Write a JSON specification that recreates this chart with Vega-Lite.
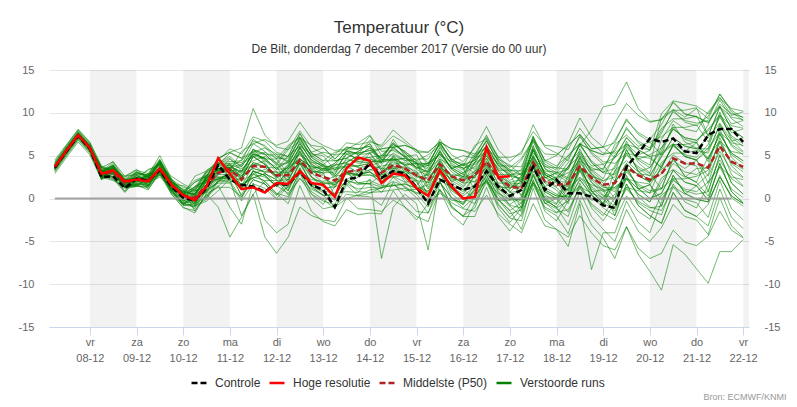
{
  "$schema": "https://vega.github.io/schema/vega-lite/v6.json",
  "autosize": {"type": "none"},
  "width": 700,
  "height": 257,
  "padding": {"left": 49, "top": 70, "right": 48, "bottom": 80},
  "background": "white",
  "config": {
    "font": "Liberation Sans",
    "view": {"stroke": null},
    "legend": {
      "orient": "none",
      "legendX": 141,
      "legendY": 304,
      "direction": "horizontal",
      "symbolType": "stroke",
      "symbolSize": 225,
      "symbolStrokeWidth": 2.5,
      "symbolOpacity": 1,
      "labelFontSize": 12,
      "labelColor": "#333333",
      "labelFont": "Liberation Sans",
      "columnPadding": 3,
      "labelOffset": 7
    }
  },
  "title": {
    "text": "Temperatuur (°C)",
    "subtitle": "De Bilt, donderdag 7 december 2017 (Versie do 00 uur)",
    "anchor": "middle",
    "frame": "group",
    "font": "Liberation Sans",
    "fontSize": 17,
    "fontWeight": "normal",
    "color": "#333333",
    "subtitleFont": "Liberation Sans",
    "subtitleFontSize": 12,
    "subtitleColor": "#333333",
    "offset": 8,
    "subtitlePadding": 7
  },
  "datasets": {
    "times": [
      {"k":1,"t":1512626400000},{"k":2,"t":1512648000000},{"k":3,"t":1512669600000},
      {"k":4,"t":1512691200000},{"k":5,"t":1512712800000},{"k":6,"t":1512734400000},{"k":7,"t":1512756000000},
      {"k":8,"t":1512777600000},{"k":9,"t":1512799200000},{"k":10,"t":1512820800000},{"k":11,"t":1512842400000},
      {"k":12,"t":1512864000000},{"k":13,"t":1512885600000},{"k":14,"t":1512907200000},{"k":15,"t":1512928800000},
      {"k":16,"t":1512950400000},{"k":17,"t":1512972000000},{"k":18,"t":1512993600000},{"k":19,"t":1513015200000},
      {"k":20,"t":1513036800000},{"k":21,"t":1513058400000},{"k":22,"t":1513080000000},{"k":23,"t":1513101600000},
      {"k":24,"t":1513123200000},{"k":25,"t":1513144800000},{"k":26,"t":1513166400000},{"k":27,"t":1513188000000},
      {"k":28,"t":1513209600000},{"k":29,"t":1513231200000},{"k":30,"t":1513252800000},{"k":31,"t":1513274400000},
      {"k":32,"t":1513296000000},{"k":33,"t":1513317600000},{"k":34,"t":1513339200000},{"k":35,"t":1513360800000},
      {"k":36,"t":1513382400000},{"k":37,"t":1513404000000},{"k":38,"t":1513425600000},{"k":39,"t":1513447200000},
      {"k":40,"t":1513468800000},{"k":41,"t":1513490400000},{"k":42,"t":1513512000000},{"k":43,"t":1513533600000},
      {"k":44,"t":1513555200000},{"k":45,"t":1513576800000},{"k":46,"t":1513598400000},{"k":47,"t":1513620000000},
      {"k":48,"t":1513641600000},{"k":49,"t":1513663200000},{"k":50,"t":1513684800000},{"k":51,"t":1513706400000},
      {"k":52,"t":1513728000000},{"k":53,"t":1513749600000},{"k":54,"t":1513771200000},{"k":55,"t":1513792800000},
      {"k":56,"t":1513814400000},{"k":57,"t":1513836000000},{"k":58,"t":1513857600000},{"k":59,"t":1513879200000},
      {"k":60,"t":1513900800000}
    ],
    "runs": [
      {"s":"Verstoorde runs","m":"e01","v":[3.9,5.8,7.6,6.1,3.6,3.2,2.5,3.3,2.9,4.6,2.3,0.8,2.1,2.7,3.9,5.3,4.7,6.7,6.2,4.9,4.4,7.1,4.8,3.9,3.4,3.7,4.5,5.4,3.5,3.6,2.9,3.1,0.3,3.1,0.9,0.0,-0.6,2.8,-0.6,-2.3,-2.6,2.2,-1.5,-2.6,-0.3,2.2,0.4,-0.7,2.1,3.3,2.9,2.7,4.9,7.1,6.1,5.8,7.1,8.8,6.7,7.1]},
      {"s":"Verstoorde runs","m":"e02","v":[3.5,5.4,7.2,5.7,2.4,3.1,1.4,1.6,1.0,3.2,0.5,-1.1,-1.4,0.4,1.5,-1.0,-3.0,1.8,-2.5,-4.0,-3.0,1.5,-1.5,-2.7,-3.2,-1.3,-1.9,-1.7,-1.8,0.9,-1.0,-2.5,-0.6,0.6,-0.2,-0.4,0.7,2.7,0.4,-0.9,-2.1,1.8,-1.2,-2.0,-4.1,-0.2,-3.1,-4.6,-7.0,-3.3,-5.8,-7.0,-6.4,-3.7,-5.1,-5.5,-4.4,-1.5,-3.7,-4.6]},
      {"s":"Verstoorde runs","m":"e03","v":[3.8,5.7,7.5,6.0,3.0,3.4,2.0,2.5,2.0,3.5,1.4,0.2,-0.5,1.0,2.3,2.9,1.3,2.8,2.5,1.5,0.6,2.3,1.1,0.4,-1.0,0.0,0.4,1.0,1.2,2.0,1.4,0.5,-1.0,1.0,-0.5,-1.2,-1.5,0.4,-1.8,-3.0,-4.0,-0.6,-3.2,-3.6,-4.5,-2.0,-4.0,-5.5,-6.0,-3.3,-6.5,-8.5,-10.7,-5.4,-6.5,-8.2,-9.9,-6.2,-6.2,-4.8]},
      {"s":"Verstoorde runs","m":"e04","v":[3.8,5.7,7.5,6.0,3.6,3.1,1.5,3.0,2.5,4.2,1.9,0.4,1.4,2.1,4.2,4.9,3.7,5.7,5.2,3.9,5.7,6.7,4.9,5.4,5.1,6.5,6.3,6.6,6.2,8.0,6.8,5.6,5.4,6.6,5.8,5.6,5.2,7.2,4.9,3.6,4.7,6.9,4.4,5.0,6.4,9.4,7.2,6.0,8.8,11.1,9.7,8.9,9.2,10.3,10.3,10.6,7.3,10.7,8.1,7.1]},
      {"s":"Verstoorde runs","m":"e05","v":[3.6,5.5,7.3,5.8,2.3,3.5,1.4,1.5,2.1,2.7,1.4,0.5,-0.5,1.3,2.4,2.5,1.7,2.5,2.1,2.1,2.2,4.4,2.5,1.7,1.8,3.7,3.1,3.3,3.8,4.0,4.2,3.7,3.1,5.4,3.6,2.8,4.7,5.5,3.3,3.3,1.9,5.8,2.8,2.0,0.9,4.8,1.9,0.4,0.0,3.7,1.2,0.0,0.6,3.3,1.9,1.5,-0.2,4.1,0.8,-0.5]},
      {"s":"Verstoorde runs","m":"e06","v":[4.0,5.9,7.7,6.2,2.9,3.6,1.9,2.1,2.8,3.3,1.1,0.9,0.3,2.6,3.3,3.3,5.5,6.4,6.9,6.2,6.7,8.9,7.0,6.2,5.6,5.8,5.7,7.3,5.0,6.3,5.5,4.4,3.8,6.6,4.4,3.5,4.0,4.9,3.6,2.9,0.2,3.6,1.0,0.3,0.2,1.5,-0.2,0.0,-1.5,1.3,-0.5,-1.4,-1.9,1.7,-0.4,-1.1,1.6,4.5,2.3,1.4]},
      {"s":"Verstoorde runs","m":"e07","v":[3.4,5.3,7.1,5.6,2.5,2.1,1.4,2.2,1.1,2.8,0.5,-1.0,-1.7,0.6,1.3,1.3,0.2,2.2,1.7,0.4,2.0,3.1,2.2,2.0,2.6,4.0,3.8,4.1,5.0,5.1,4.4,4.6,4.6,6.9,5.1,4.3,5.9,8.4,5.7,4.3,5.5,7.8,6.2,6.1,5.7,8.2,6.4,5.3,5.3,6.4,5.1,5.6,7.6,10.3,8.9,8.5,9.6,12.2,10.3,9.4]},
      {"s":"Verstoorde runs","m":"e08","v":[3.7,5.5,7.3,5.9,3.0,3.7,2.0,2.2,2.9,3.5,2.2,1.3,0.9,2.7,3.8,3.9,2.9,5.4,4.5,3.1,3.0,4.1,3.2,3.0,0.3,3.1,1.8,1.7,0.7,2.5,1.3,0.1,-1.7,2.0,-0.9,-2.1,-2.1,1.3,-2.1,-3.8,-1.8,1.6,-1.0,-1.7,0.0,1.4,0.6,0.1,1.8,4.1,2.7,1.9,5.4,6.4,5.5,6.5,4.3,7.7,5.1,4.1]},
      {"s":"Verstoorde runs","m":"e09","v":[3.6,5.6,7.5,6.0,3.3,2.8,1.2,2.7,1.6,3.8,1.1,-0.5,0.1,0.8,2.9,3.6,2.2,4.2,3.7,2.4,3.4,6.1,3.8,2.9,3.9,4.2,5.0,5.9,4.0,5.3,4.5,3.4,2.6,3.7,2.0,2.5,1.9,4.4,1.7,0.3,-0.6,4.2,0.5,-0.6,2.7,5.2,3.4,2.3,5.1,6.3,5.9,5.7,7.9,10.1,9.1,8.8,9.1,10.8,8.7,9.1]},
      {"s":"Verstoorde runs","m":"e10","v":[3.5,5.5,7.3,5.8,2.5,3.2,1.5,1.7,1.6,3.3,1.0,-0.5,-0.4,0.2,1.4,2.8,0.4,2.9,2.0,0.6,-0.6,3.0,0.0,-1.2,-0.9,0.5,0.3,0.6,1.3,1.5,1.7,1.2,0.8,3.6,1.4,0.5,2.7,4.7,2.4,1.1,2.7,4.9,2.4,3.0,3.4,6.4,4.2,3.0,2.8,5.1,3.7,2.9,1.1,4.7,2.6,1.9,0.3,3.7,1.1,0.1]},
      {"s":"Verstoorde runs","m":"e11","v":[3.9,5.9,7.7,6.1,2.9,4.1,2.0,2.1,2.7,4.4,2.1,0.6,0.6,2.4,3.5,3.6,1.5,2.4,2.9,2.2,0.4,3.1,0.8,-0.1,-1.2,1.6,0.3,0.2,-0.8,1.9,0.0,-1.5,-1.7,1.1,-1.1,-2.0,-1.1,2.3,-1.1,-2.8,-1.1,2.8,-0.2,-1.0,-3.1,0.8,-2.1,-3.6,-5.0,-1.3,-3.8,-5.0,-3.4,-0.7,-2.1,-2.5,-4.2,0.1,-3.2,-4.5]},
      {"s":"Verstoorde runs","m":"e12","v":[3.7,5.7,7.5,5.9,3.0,2.6,1.9,2.7,2.0,4.2,1.5,-0.1,1.4,2.0,3.2,4.6,3.7,5.7,5.2,3.9,4.2,5.2,3.4,3.9,2.3,4.2,3.6,3.8,4.3,4.5,4.7,4.2,3.6,5.9,4.1,3.3,5.2,6.0,3.8,3.8,3.7,7.1,4.5,3.8,5.0,6.4,5.6,5.1,5.5,8.3,6.5,5.6,9.9,11.4,11.1,10.8,9.9,11.7,10.5,10.2]},
      {"s":"Verstoorde runs","m":"e13","v":[3.8,5.6,7.3,5.9,3.0,3.7,2.0,2.2,2.2,2.8,1.5,0.6,-0.4,1.4,2.5,2.6,3.2,4.0,3.6,3.6,4.2,6.4,4.5,3.7,3.8,5.7,5.1,5.3,5.8,6.0,6.2,5.7,4.1,5.2,3.5,4.0,2.9,5.4,2.7,1.3,1.2,4.6,2.0,1.3,-0.1,3.8,0.9,-0.6,3.3,4.4,3.1,3.6,5.6,8.3,6.9,6.5,8.6,11.5,9.3,8.4]},
      {"s":"Verstoorde runs","m":"e14","v":[3.4,5.3,7.1,5.7,2.8,2.3,0.7,2.2,1.3,3.0,0.7,-0.8,-0.6,0.1,2.2,2.9,1.4,3.9,3.0,1.6,3.2,5.4,3.5,2.7,1.3,4.1,2.8,2.7,2.5,2.6,1.9,2.1,-0.7,3.0,0.1,-1.1,0.2,2.2,-0.1,-1.4,-0.5,1.8,0.2,0.1,0.4,3.4,1.2,0.0,2.0,5.7,3.2,2.0,2.9,5.1,4.1,3.8,0.8,5.1,1.8,0.5]},
      {"s":"Verstoorde runs","m":"e15","v":[4.0,5.9,7.6,6.2,3.1,4.3,2.2,2.3,3.3,3.9,2.6,1.7,1.0,3.3,4.0,4.0,3.5,4.4,4.9,4.2,2.4,6.0,3.0,1.8,1.6,3.0,2.8,3.1,1.7,3.5,2.3,1.1,1.6,3.9,2.1,1.3,3.0,3.9,2.6,1.9,2.2,4.4,1.9,2.5,3.7,6.2,4.4,3.3,6.3,7.4,6.1,6.6,5.1,8.7,6.6,5.9,4.6,7.5,5.3,4.4]},
      {"s":"Verstoorde runs","m":"e16","v":[3.7,5.5,7.4,6.0,2.5,3.7,1.6,1.7,2.4,4.1,1.8,0.3,-0.7,2.5,2.5,2.2,-2.0,0.5,-4.5,-6.4,-4.5,-1.0,-2.0,-2.5,-2.7,0.1,-1.2,-1.3,-1.5,-0.2,-1.0,-2.1,-2.7,1.0,-1.9,-3.1,-0.6,1.9,-0.8,-2.2,-0.8,2.6,0.0,-0.7,1.2,2.5,0.8,1.0,-2.0,1.7,-0.8,-2.0,-2.9,0.7,-1.4,-2.1,-0.7,2.7,0.1,-0.9]},
      {"s":"Verstoorde runs","m":"e17","v":[3.6,5.6,7.4,5.8,2.9,2.5,1.8,2.6,1.4,3.6,0.9,-0.7,0.1,1.9,3.0,3.1,3.9,6.4,5.5,4.1,6.0,7.1,6.2,6.0,4.6,6.0,5.8,6.1,4.5,4.6,3.9,4.1,1.3,4.1,1.9,1.0,1.5,2.4,1.1,0.4,-1.6,3.2,-0.5,-1.6,-1.3,1.2,-0.6,-1.7,-2.5,0.3,-1.5,-2.4,0.4,1.4,0.5,1.5,2.8,7.1,3.8,2.5]},
      {"s":"Verstoorde runs","m":"e18","v":[3.9,5.7,7.5,6.1,3.1,3.8,2.1,2.3,2.6,3.1,0.9,0.7,-0.7,1.6,2.3,2.3,1.2,3.2,2.7,1.4,2.2,3.2,1.4,1.9,1.9,2.2,3.0,3.9,3.5,4.8,4.0,2.9,3.3,6.1,3.9,3.0,4.7,6.7,4.4,3.1,4.5,6.8,5.2,5.1,6.2,7.5,5.8,6.0,6.5,9.3,7.5,6.6,7.2,8.3,8.3,8.6,6.6,9.5,7.3,6.4]},
      {"s":"Verstoorde runs","m":"e19","v":[3.5,5.4,7.3,5.8,2.4,3.1,1.4,1.6,2.2,2.8,1.5,0.6,0.9,1.5,2.7,4.1,2.4,5.8,4.2,2.5,3.9,6.6,4.3,3.4,4.1,5.5,5.3,5.6,4.7,6.5,5.3,4.1,3.4,4.6,3.8,3.6,0.9,4.3,0.9,-0.8,-1.1,2.8,-0.2,-1.0,0.7,3.2,1.4,0.3,-1.0,2.7,0.2,-1.0,-1.4,1.3,-0.1,-0.5,-2.2,2.1,-1.2,-2.5]},
      {"s":"Verstoorde runs","m":"e20","v":[3.7,5.7,7.4,5.9,3.4,2.9,1.3,2.8,2.0,3.7,1.4,-0.1,-1.2,1.1,1.8,1.8,-0.3,1.7,1.2,-0.1,-0.1,3.5,0.5,-0.7,1.4,1.7,2.5,3.4,3.0,4.3,3.5,2.4,2.8,5.6,3.4,2.5,5.0,5.9,4.6,3.9,2.7,6.1,3.5,2.8,1.9,4.9,2.7,1.5,3.8,6.1,4.7,3.9,9.4,10.4,9.5,10.5,9.3,12.2,10.1,9.1]},
      {"s":"Verstoorde runs","m":"e21","v":[3.8,5.6,7.4,5.9,2.8,3.5,1.8,2.0,2.2,4.4,1.7,0.1,1.1,2.9,4.0,4.1,4.2,5.0,4.6,4.6,2.9,5.6,3.3,2.4,1.6,3.0,2.8,3.1,2.3,2.5,2.7,2.2,0.6,2.9,1.1,0.3,1.4,3.9,1.2,-0.2,1.7,3.9,1.4,2.0,1.9,5.8,2.9,1.4,0.8,3.1,1.7,0.9,1.2,2.3,2.3,2.6,3.3,6.7,4.1,3.1]},
      {"s":"Verstoorde runs","m":"e22","v":[3.6,5.5,7.3,5.9,2.4,3.6,1.5,1.6,1.5,3.2,0.9,-0.6,-0.8,-0.1,2.0,2.7,1.2,3.2,2.7,1.4,3.5,4.6,3.7,3.5,3.3,5.2,4.6,4.8,5.0,6.3,5.5,4.4,5.1,6.2,4.5,5.0,4.7,6.7,4.4,3.1,1.9,5.8,2.8,2.0,-0.1,3.8,0.9,-0.6,-1.2,1.1,-0.3,-1.1,-0.9,2.7,0.6,-0.1,-0.4,2.5,0.3,-0.6]},
      {"s":"Verstoorde runs","m":"e23","v":[3.8,5.7,7.6,6.0,3.3,2.9,2.2,3.0,2.6,4.3,2.0,0.5,0.1,2.4,3.1,3.1,2.7,3.5,3.1,3.1,1.2,3.4,1.5,0.7,-0.2,1.7,1.1,1.3,1.2,3.9,2.0,0.5,2.1,4.4,2.6,1.8,4.2,5.0,2.8,2.8,2.9,6.8,3.8,3.0,4.7,7.2,5.4,4.3,4.1,5.3,4.9,4.7,3.6,6.3,4.9,4.5,5.9,7.7,6.5,6.2]},
      {"s":"Verstoorde runs","m":"e24","v":[3.5,5.5,7.4,5.8,3.0,2.5,0.9,2.4,1.8,4.0,1.3,-0.3,0.6,2.4,3.5,3.6,4.5,5.4,5.9,5.2,4.9,7.6,5.3,4.4,5.4,5.7,6.5,7.4,5.5,5.6,4.9,5.1,2.8,5.6,3.4,2.5,4.2,6.2,3.9,2.6,2.4,7.2,3.5,2.4,3.0,4.4,3.6,3.1,3.5,6.3,4.5,3.6,5.9,8.1,7.1,6.8,8.1,9.8,7.7,8.1]},
      {"s":"Verstoorde runs","m":"e25","v":[3.9,5.8,7.5,6.0,3.2,3.9,2.2,2.4,2.6,3.2,1.9,1.0,-1.5,0.5,-1.0,-4.5,-2.2,0.5,2.0,0.6,0.2,2.4,0.5,-0.3,-0.7,2.1,0.8,0.7,0.8,1.0,1.2,0.7,-0.2,3.5,0.6,-0.6,1.7,3.7,1.4,0.1,-0.3,1.9,-0.6,0.0,-1.6,1.4,-0.8,-2.0,0.1,1.3,0.9,0.7,1.1,4.7,2.6,1.9,4.9,6.7,5.5,5.2]},
      {"s":"Verstoorde runs","m":"e26","v":[3.6,5.6,7.4,5.9,2.6,3.3,1.6,1.8,2.7,3.2,1.0,0.8,0.5,2.3,3.4,3.5,2.4,4.9,4.0,2.6,3.7,5.9,4.0,3.2,3.6,3.8,3.7,5.3,3.2,5.0,3.8,2.6,2.4,3.6,2.8,2.6,2.4,5.8,2.4,0.7,2.2,5.6,3.0,2.3,4.2,5.5,3.8,4.0,4.8,7.1,5.7,4.9,3.6,6.3,4.9,4.5,1.8,6.1,2.8,1.5]},
      {"s":"Verstoorde runs","m":"e27","v":[3.7,5.5,7.3,5.8,3.2,2.8,2.1,2.9,1.5,3.7,1.0,-0.6,0.2,0.8,2.0,3.4,0.2,2.2,1.7,0.4,1.4,4.1,1.8,0.9,0.6,2.0,1.8,2.1,1.5,1.6,0.9,1.1,-0.4,1.9,0.1,-0.7,1.0,1.9,0.6,-0.1,-0.1,3.8,0.8,0.0,1.7,4.2,2.4,1.3,1.3,2.4,1.1,1.6,-0.1,2.1,1.1,0.8,1.9,3.7,2.5,2.2]},
      {"s":"Verstoorde runs","m":"e28","v":[3.7,5.7,7.5,6.0,2.8,3.5,1.8,2.0,2.7,4.4,2.1,0.6,1.9,2.6,4.7,5.4,5.9,10.5,7.4,6.0,5.7,7.9,6.0,5.2,4.4,4.7,5.5,6.4,4.2,6.0,4.8,3.6,4.1,6.4,4.6,3.8,6.2,7.0,4.8,4.8,5.2,8.6,6.0,5.3,4.4,7.4,5.2,4.0,2.0,5.7,3.2,2.0,3.4,4.4,3.5,4.5,2.6,5.5,3.3,2.4]},
      {"s":"Verstoorde runs","m":"e29","v":[3.4,5.4,7.2,5.7,2.3,3.0,1.3,1.5,1.8,3.5,1.2,-0.3,-0.2,2.1,2.8,2.8,2.0,2.9,3.4,2.7,0.9,4.5,1.5,0.3,0.6,0.8,0.7,2.3,-7.0,-1.0,0.5,-0.6,-6.0,2.0,-0.9,-2.1,0.2,2.2,-0.1,-1.4,-3.6,1.2,-2.5,-3.6,-5.6,-0.6,-8.3,-4.0,-4.0,-0.3,-2.8,-4.0,-0.4,2.3,0.9,0.5,0.8,5.1,1.8,0.5]},
      {"s":"Verstoorde runs","m":"e30","v":[3.9,5.8,7.6,6.2,3.6,3.1,1.5,3.0,2.7,3.3,2.0,1.1,0.6,2.4,3.5,3.6,3.2,5.2,4.7,3.4,5.0,6.1,5.2,5.0,3.3,5.2,4.6,4.8,3.3,3.5,3.7,3.2,1.1,3.4,1.6,0.8,2.7,3.5,1.3,1.3,1.9,5.8,2.8,2.0,3.7,6.2,8.0,10.7,11.0,13.6,10.5,9.0,9.2,11.2,9.8,9.6,8.8,11.0,9.9,9.5]},
      {"s":"Verstoorde runs","m":"e31","v":[4.3,6.2,8.0,6.5,3.6,4.3,2.6,2.8,2.8,5.0,2.3,0.7,1.9,2.6,4.7,5.4,4.7,5.5,5.1,5.1,4.2,6.4,4.5,3.7,2.8,4.7,4.1,4.3,4.3,4.5,4.7,4.2,2.6,4.9,3.1,2.3,3.2,4.0,1.8,1.8,0.4,4.3,1.3,0.5,-0.1,3.8,0.9,-0.6,1.8,4.1,2.7,1.9,4.2,5.3,5.3,5.6,5.3,8.7,6.1,5.1]},
      {"s":"Verstoorde runs","m":"e32","v":[3.1,5.0,6.8,5.3,2.6,2.2,1.5,2.3,1.8,3.5,1.2,-0.3,0.3,2.6,3.3,3.3,3.2,5.2,4.7,3.4,3.5,4.6,3.7,3.5,2.6,2.8,2.7,4.3,2.5,3.8,3.0,1.9,0.3,4.0,1.1,-0.1,0.9,3.4,0.7,-0.7,0.2,3.6,1.0,0.3,2.0,3.4,2.6,2.1,2.5,5.3,3.5,2.6,4.9,7.1,6.1,5.8,5.8,10.1,6.8,5.5]},
      {"s":"Verstoorde runs","m":"e33","v":[4.1,6.0,7.8,6.3,2.5,3.7,1.6,1.7,1.9,2.5,1.2,0.3,-0.9,0.9,2.0,2.1,-0.1,3.3,1.7,0.0,1.4,4.1,1.8,0.9,1.6,3.0,2.8,3.1,2.2,4.9,3.0,1.5,3.1,4.2,2.5,3.0,3.7,5.7,3.4,2.1,3.0,5.3,3.7,3.6,3.4,6.4,4.2,3.0,4.8,5.9,4.6,5.1,5.9,8.1,7.1,6.8,7.9,9.7,8.5,8.2]},
      {"s":"Verstoorde runs","m":"e34","v":[3.3,5.2,7.0,5.5,3.2,3.9,2.2,2.4,3.4,3.9,1.7,1.5,0.8,3.1,3.8,3.8,3.0,3.9,4.4,3.7,1.9,5.5,2.5,1.3,1.3,3.2,2.6,2.8,2.0,3.3,2.5,1.4,0.9,2.1,1.3,1.1,-0.1,3.3,-0.1,-1.8,-1.3,2.1,-0.5,-1.2,-2.1,1.8,-1.1,-2.6,-0.5,2.3,0.5,-0.4,2.4,3.4,2.5,3.5,3.6,6.5,4.3,3.4]},
      {"s":"Verstoorde runs","m":"e35","v":[4.5,6.3,8.1,6.6,3.8,3.3,1.7,3.2,2.3,4.0,1.7,0.2,0.4,1.1,3.2,3.9,2.4,4.9,4.0,2.6,3.7,5.9,4.0,3.2,3.9,4.2,5.0,5.9,4.7,6.5,5.3,4.1,4.1,6.4,4.6,3.8,4.5,5.4,4.1,3.4,2.7,4.9,2.4,3.0,2.2,4.7,2.9,1.8,0.0,3.7,1.2,0.0,0.6,3.3,1.9,1.5,-0.2,4.1,0.8,-0.5]},
      {"s":"Verstoorde runs","m":"e36","v":[2.9,4.8,6.6,5.1,2.2,2.9,1.2,1.4,1.4,3.6,0.9,-0.7,0.1,0.7,1.9,3.3,1.5,2.4,2.9,2.2,0.9,3.6,1.3,0.4,0.3,3.1,1.8,1.7,2.8,3.0,3.2,2.7,1.8,4.6,2.4,1.5,3.2,5.2,2.9,1.6,1.4,6.2,2.5,1.4,3.7,5.0,3.3,3.5,5.8,8.1,6.7,5.9,8.2,9.3,9.3,9.6,7.3,10.7,8.1,7.1]},
      {"s":"Verstoorde runs","m":"e37","v":[3.9,5.8,7.6,6.1,3.4,3.0,2.3,3.1,2.7,4.4,2.1,0.6,1.3,3.1,4.2,4.3,4.4,6.9,6.0,4.6,6.2,7.2,5.4,5.9,4.6,6.0,5.8,6.1,4.2,6.9,5.0,3.5,3.9,5.1,4.3,4.1,3.4,5.9,3.2,1.8,1.7,5.1,2.5,1.8,1.4,4.4,2.2,1.0,1.1,2.3,1.9,1.7,-0.9,2.7,0.6,-0.1,-0.4,2.5,0.3,-0.6]},
      {"s":"Verstoorde runs","m":"e38","v":[3.5,5.4,7.2,5.7,2.3,3.5,1.4,1.5,2.4,3.0,1.7,0.8,0.4,2.2,3.3,3.4,2.7,3.5,3.1,3.1,2.2,4.4,2.5,1.7,0.3,2.2,1.6,1.8,1.3,1.5,1.7,1.2,-0.4,1.9,0.1,-0.7,1.2,2.0,-0.2,-0.2,-0.1,3.8,0.8,0.0,1.2,3.7,1.9,0.8,1.3,2.4,1.1,1.6,3.6,6.3,4.9,4.5,5.6,8.5,6.3,5.4]},
      {"s":"Verstoorde runs","m":"e39","v":[4.2,6.1,7.9,6.4,3.1,3.8,2.1,2.3,2.3,4.5,1.8,0.2,1.2,1.9,4.0,4.7,3.2,5.2,4.7,3.4,4.4,7.1,4.8,3.9,5.1,5.3,5.2,6.8,6.0,7.3,6.5,5.4,5.4,6.6,5.8,5.6,4.9,7.4,4.7,3.3,3.2,6.6,4.0,3.3,5.0,6.4,5.6,5.1,6.8,9.1,7.7,6.9,8.6,11.3,9.9,9.5,8.9,10.7,9.5,9.2]},
      {"s":"Verstoorde runs","m":"e40","v":[3.2,5.1,6.9,5.4,2.2,3.4,1.3,1.4,1.3,3.0,0.7,-0.8,-0.9,-0.3,0.9,2.3,1.2,3.2,2.7,1.4,3.0,4.1,3.2,3.0,3.1,4.5,4.3,4.6,4.2,6.0,4.8,3.6,3.1,5.4,3.6,2.8,2.4,5.8,2.4,0.7,0.9,4.8,1.8,1.0,-0.6,3.3,0.4,-1.1,-2.0,1.7,-0.8,-2.0,-2.9,0.7,-1.4,-2.1,-3.2,1.1,-2.2,-3.5]},
      {"s":"Verstoorde runs","m":"e41","v":[4.0,5.9,7.7,6.2,3.7,3.3,2.6,3.4,2.4,4.1,1.8,0.3,0.6,2.4,3.5,3.6,4.0,4.9,5.4,4.7,4.7,6.9,5.0,4.2,2.8,5.6,4.3,4.2,4.5,4.6,3.9,4.1,2.1,4.4,2.6,1.8,2.0,2.9,1.6,0.9,-1.1,3.7,0.0,-1.1,-0.3,2.2,0.4,-0.7,0.5,3.3,1.5,0.6,3.9,6.1,5.1,4.8,6.3,9.7,7.1,6.1]},
      {"s":"Verstoorde runs","m":"e42","v":[3.4,5.3,7.1,5.6,2.7,3.4,1.7,1.9,2.6,3.2,1.9,1.0,0.4,2.7,3.4,3.4,2.2,4.2,3.7,2.4,3.7,4.7,2.9,3.4,4.1,5.5,5.3,5.6,5.8,6.0,6.2,5.7,3.8,6.6,4.4,3.5,4.2,6.2,3.9,2.6,3.4,7.3,4.3,3.5,6.2,7.5,5.8,6.0,4.8,7.1,5.7,4.9,5.2,6.3,6.3,6.6,4.6,7.5,5.3,4.4]},
      {"s":"Verstoorde runs","m":"e43","v":[3.8,5.7,7.5,6.0,2.9,2.4,0.8,2.3,1.5,3.2,0.9,-0.6,-1.0,2.2,2.2,1.9,2.4,4.9,4.0,2.6,4.0,5.1,4.2,4.0,2.6,4.0,3.8,4.1,2.7,4.5,3.3,2.1,1.9,3.1,2.3,2.1,2.7,4.7,2.4,1.1,2.5,4.8,3.2,3.1,2.4,5.4,3.2,2.0,3.0,6.7,4.2,3.0,6.9,9.1,8.1,7.8,10.1,11.8,9.7,10.1]},
      {"s":"Verstoorde runs","m":"e44","v":[3.8,5.7,7.3,5.8,2.7,3.9,1.8,1.9,2.5,4.2,1.9,0.4,2.6,3.2,4.4,5.8,5.2,7.2,6.7,5.4,4.9,7.6,5.3,4.4,4.4,4.7,5.5,6.4,4.5,5.8,5.0,3.9,4.1,5.2,3.5,4.0,4.4,6.9,4.2,2.8,2.2,5.6,3.0,2.3,1.0,2.4,1.6,1.1,-0.5,2.3,0.5,-0.4,1.9,4.1,3.1,2.8,3.8,8.1,4.8,3.5]},
      {"s":"Middelste (P50)","m":"p","v":[3.7,5.6,7.4,5.9,2.8,3.1,1.8,2.3,2.1,3.4,1.5,0.3,0.1,1.5,3.0,3.4,2.2,3.8,3.7,2.7,2.7,4.5,3.0,2.5,2.1,3.1,3.3,3.9,3.0,3.9,3.5,2.7,2.1,4.0,2.6,2.1,2.7,4.3,2.4,1.4,1.2,4.2,2.0,1.6,1.7,3.8,2.4,1.6,1.8,3.7,2.7,2.2,2.9,4.7,4.1,4.1,3.6,6.1,4.3,3.7]},
      {"s":"Controle","m":"c","v":[3.6,5.5,7.3,5.8,2.5,2.6,1.2,2.3,2.1,3.3,1.4,0.1,-0.2,1.2,3.9,2.2,1.6,1.4,0.8,1.7,1.6,3.1,1.6,1.0,-1.0,2.2,2.5,4.1,2.4,3.2,2.9,1.3,-0.6,2.2,1.6,1.0,1.4,3.2,1.4,0.3,1.0,3.7,1.0,2.2,0.6,0.6,0.2,-0.8,-1.1,3.7,5.3,7.0,6.6,7.0,5.5,5.3,7.4,8.1,8.1,6.6]},
      {"s":"Hoge resolutie","m":"h","v":[3.7,5.6,7.4,5.9,2.9,3.3,2.0,2.2,2.0,3.5,1.6,0.4,-0.2,1.4,4.7,2.9,1.1,1.3,0.7,1.8,1.7,3.2,1.8,1.6,0.2,3.5,4.8,4.4,1.8,2.9,2.7,1.2,0.3,3.3,1.4,0.0,0.2,6.0,2.5,2.6]}
    ]
  },
  "resolve": {"axis": {"y": "independent"}},
  "layer": [
    {
      "data": {"values": [
        {"b":1512691200000,"e":1512777600000},
        {"b":1512864000000,"e":1512950400000},
        {"b":1513036800000,"e":1513123200000},
        {"b":1513209600000,"e":1513296000000},
        {"b":1513382400000,"e":1513468800000},
        {"b":1513555200000,"e":1513641600000},
        {"b":1513728000000,"e":1513814400000},
        {"b":1513900800000,"e":1513911600000}
      ]},
      "mark": {"type": "rect", "color": "#000000", "opacity": 0.05, "clip": true},
      "encoding": {
        "x": {"field": "b", "type": "temporal",
          "scale": {"type": "utc", "domain": [{"year":2017,"month":12,"date":7,"hours":3,"utc":true},{"year":2017,"month":12,"date":22,"hours":3,"utc":true}]},
          "axis": {"title": "Bron: ECMWF/KNMI", "titleFontSize": 9, "titleColor": "#999999", "titleFont": "Liberation Sans", "titleFontWeight": "normal", "titleX": 737, "titleY": 72, "titleAlign": "right", "titleBaseline": "alphabetic",
            "tickCount": {"interval": "day", "step": 1},
            "labelExpr": "[['zo','ma','di','wo','do','vr','za'][utcday(datum.value)], utcFormat(datum.value, '%d-%m')]",
            "labelColor": "#666666", "labelFontSize": 11, "labelFont": "Liberation Sans", "labelLineHeight": 16, "labelPadding": 1, "labelBaseline": "top", "labelFlush": false, "labelOverlap": false,
            "tickSize": 8, "tickColor": "#ccd6eb", "domainColor": "#ccd6eb", "grid": false}},
        "x2": {"field": "e"}
      }
    },
    {
      "data": {"name": "runs"},
      "transform": [
        {"filter": "datum.s === 'Verstoorde runs'"},
        {"flatten": ["v"]},
        {"window": [{"op": "row_number", "as": "k"}], "groupby": ["m"]},
        {"lookup": "k", "from": {"data": {"name": "times"}, "key": "k", "fields": ["t"]}}
      ],
      "mark": {"type": "line", "strokeWidth": 1, "opacity": 0.6, "clip": true},
      "encoding": {
        "x": {"field": "t", "type": "temporal",
          "scale": {"type": "utc", "domain": [{"year":2017,"month":12,"date":7,"hours":3,"utc":true},{"year":2017,"month":12,"date":22,"hours":3,"utc":true}]},
          "axis": {"title": "Bron: ECMWF/KNMI", "titleFontSize": 9, "titleColor": "#999999", "titleFont": "Liberation Sans", "titleFontWeight": "normal", "titleX": 737, "titleY": 72, "titleAlign": "right", "titleBaseline": "alphabetic",
            "tickCount": {"interval": "day", "step": 1},
            "labelExpr": "[['zo','ma','di','wo','do','vr','za'][utcday(datum.value)], utcFormat(datum.value, '%d-%m')]",
            "labelColor": "#666666", "labelFontSize": 11, "labelFont": "Liberation Sans", "labelLineHeight": 16, "labelPadding": 1, "labelBaseline": "top", "labelFlush": false, "labelOverlap": false,
            "tickSize": 8, "tickColor": "#ccd6eb", "domainColor": "#ccd6eb", "grid": false}},
        "y": {"field": "v", "type": "quantitative",
          "scale": {"domain": [-15, 15], "nice": false, "zero": false},
          "axis": {"orient": "left", "values": [-15,-10,-5,0,5,10,15], "labelExpr": "'' + datum.value", "title": null, "domain": false, "ticks": false, "grid": true, "gridColor": "#e6e6e6", "labelPadding": 15, "labelColor": "#666666", "labelFontSize": 11, "labelFont": "Liberation Sans"}},
        "color": {"field": "s", "type": "nominal",
          "scale": {"domain": ["Controle","Hoge resolutie","Middelste (P50)","Verstoorde runs"], "range": ["#000000","#ff0000","#b22222","#008000"]},
          "legend": {"title": null}},
        "strokeDash": {"field": "s", "type": "nominal",
          "scale": {"domain": ["Controle","Hoge resolutie","Middelste (P50)","Verstoorde runs"], "range": [[6,3],[1,0],[6,3],[1,0]]},
          "legend": {"title": null}},
        "detail": {"field": "m"}
      }
    },
    {
      "data": {"values": [{"b":1512626400000,"e":1513879200000,"y":0}]},
      "mark": {"type": "rule", "color": "#999999", "strokeWidth": 2, "opacity": 0.9},
      "encoding": {
        "x": {"field": "b", "type": "temporal",
          "scale": {"type": "utc", "domain": [{"year":2017,"month":12,"date":7,"hours":3,"utc":true},{"year":2017,"month":12,"date":22,"hours":3,"utc":true}]},
          "axis": {"title": "Bron: ECMWF/KNMI", "titleFontSize": 9, "titleColor": "#999999", "titleFont": "Liberation Sans", "titleFontWeight": "normal", "titleX": 737, "titleY": 72, "titleAlign": "right", "titleBaseline": "alphabetic",
            "tickCount": {"interval": "day", "step": 1},
            "labelExpr": "[['zo','ma','di','wo','do','vr','za'][utcday(datum.value)], utcFormat(datum.value, '%d-%m')]",
            "labelColor": "#666666", "labelFontSize": 11, "labelFont": "Liberation Sans", "labelLineHeight": 16, "labelPadding": 1, "labelBaseline": "top", "labelFlush": false, "labelOverlap": false,
            "tickSize": 8, "tickColor": "#ccd6eb", "domainColor": "#ccd6eb", "grid": false}},
        "x2": {"field": "e"},
        "y": {"field": "y", "type": "quantitative",
          "scale": {"domain": [-15, 15], "nice": false, "zero": false},
          "axis": {"orient": "right", "values": [-15,-10,-5,0,5,10,15], "labelExpr": "'' + datum.value", "title": null, "domain": false, "ticks": false, "grid": false, "labelPadding": 15, "labelColor": "#666666", "labelFontSize": 11, "labelFont": "Liberation Sans"}}
      }
    },
    {
      "data": {"name": "runs"},
      "transform": [
        {"filter": "datum.s === 'Middelste (P50)'"},
        {"flatten": ["v"]},
        {"window": [{"op": "row_number", "as": "k"}], "groupby": ["m"]},
        {"lookup": "k", "from": {"data": {"name": "times"}, "key": "k", "fields": ["t"]}}
      ],
      "mark": {"type": "line", "strokeWidth": 2.5, "clip": true},
      "encoding": {
        "x": {"field": "t", "type": "temporal",
          "scale": {"type": "utc", "domain": [{"year":2017,"month":12,"date":7,"hours":3,"utc":true},{"year":2017,"month":12,"date":22,"hours":3,"utc":true}]},
          "axis": {"title": "Bron: ECMWF/KNMI", "titleFontSize": 9, "titleColor": "#999999", "titleFont": "Liberation Sans", "titleFontWeight": "normal", "titleX": 737, "titleY": 72, "titleAlign": "right", "titleBaseline": "alphabetic",
            "tickCount": {"interval": "day", "step": 1},
            "labelExpr": "[['zo','ma','di','wo','do','vr','za'][utcday(datum.value)], utcFormat(datum.value, '%d-%m')]",
            "labelColor": "#666666", "labelFontSize": 11, "labelFont": "Liberation Sans", "labelLineHeight": 16, "labelPadding": 1, "labelBaseline": "top", "labelFlush": false, "labelOverlap": false,
            "tickSize": 8, "tickColor": "#ccd6eb", "domainColor": "#ccd6eb", "grid": false}},
        "y": {"field": "v", "type": "quantitative", "scale": {"domain": [-15, 15], "nice": false, "zero": false}, "axis": null},
        "color": {"field": "s", "type": "nominal",
          "scale": {"domain": ["Controle","Hoge resolutie","Middelste (P50)","Verstoorde runs"], "range": ["#000000","#ff0000","#b22222","#008000"]},
          "legend": {"title": null}},
        "strokeDash": {"field": "s", "type": "nominal",
          "scale": {"domain": ["Controle","Hoge resolutie","Middelste (P50)","Verstoorde runs"], "range": [[6,3],[1,0],[6,3],[1,0]]},
          "legend": {"title": null}}
      }
    },
    {
      "data": {"name": "runs"},
      "transform": [
        {"filter": "datum.s === 'Controle'"},
        {"flatten": ["v"]},
        {"window": [{"op": "row_number", "as": "k"}], "groupby": ["m"]},
        {"lookup": "k", "from": {"data": {"name": "times"}, "key": "k", "fields": ["t"]}}
      ],
      "mark": {"type": "line", "strokeWidth": 2.5, "clip": true},
      "encoding": {
        "x": {"field": "t", "type": "temporal",
          "scale": {"type": "utc", "domain": [{"year":2017,"month":12,"date":7,"hours":3,"utc":true},{"year":2017,"month":12,"date":22,"hours":3,"utc":true}]},
          "axis": {"title": "Bron: ECMWF/KNMI", "titleFontSize": 9, "titleColor": "#999999", "titleFont": "Liberation Sans", "titleFontWeight": "normal", "titleX": 737, "titleY": 72, "titleAlign": "right", "titleBaseline": "alphabetic",
            "tickCount": {"interval": "day", "step": 1},
            "labelExpr": "[['zo','ma','di','wo','do','vr','za'][utcday(datum.value)], utcFormat(datum.value, '%d-%m')]",
            "labelColor": "#666666", "labelFontSize": 11, "labelFont": "Liberation Sans", "labelLineHeight": 16, "labelPadding": 1, "labelBaseline": "top", "labelFlush": false, "labelOverlap": false,
            "tickSize": 8, "tickColor": "#ccd6eb", "domainColor": "#ccd6eb", "grid": false}},
        "y": {"field": "v", "type": "quantitative", "scale": {"domain": [-15, 15], "nice": false, "zero": false}, "axis": null},
        "color": {"field": "s", "type": "nominal",
          "scale": {"domain": ["Controle","Hoge resolutie","Middelste (P50)","Verstoorde runs"], "range": ["#000000","#ff0000","#b22222","#008000"]},
          "legend": {"title": null}},
        "strokeDash": {"field": "s", "type": "nominal",
          "scale": {"domain": ["Controle","Hoge resolutie","Middelste (P50)","Verstoorde runs"], "range": [[6,3],[1,0],[6,3],[1,0]]},
          "legend": {"title": null}}
      }
    },
    {
      "data": {"name": "runs"},
      "transform": [
        {"filter": "datum.s === 'Hoge resolutie'"},
        {"flatten": ["v"]},
        {"window": [{"op": "row_number", "as": "k"}], "groupby": ["m"]},
        {"lookup": "k", "from": {"data": {"name": "times"}, "key": "k", "fields": ["t"]}}
      ],
      "mark": {"type": "line", "strokeWidth": 2.5, "clip": true},
      "encoding": {
        "x": {"field": "t", "type": "temporal",
          "scale": {"type": "utc", "domain": [{"year":2017,"month":12,"date":7,"hours":3,"utc":true},{"year":2017,"month":12,"date":22,"hours":3,"utc":true}]},
          "axis": {"title": "Bron: ECMWF/KNMI", "titleFontSize": 9, "titleColor": "#999999", "titleFont": "Liberation Sans", "titleFontWeight": "normal", "titleX": 737, "titleY": 72, "titleAlign": "right", "titleBaseline": "alphabetic",
            "tickCount": {"interval": "day", "step": 1},
            "labelExpr": "[['zo','ma','di','wo','do','vr','za'][utcday(datum.value)], utcFormat(datum.value, '%d-%m')]",
            "labelColor": "#666666", "labelFontSize": 11, "labelFont": "Liberation Sans", "labelLineHeight": 16, "labelPadding": 1, "labelBaseline": "top", "labelFlush": false, "labelOverlap": false,
            "tickSize": 8, "tickColor": "#ccd6eb", "domainColor": "#ccd6eb", "grid": false}},
        "y": {"field": "v", "type": "quantitative", "scale": {"domain": [-15, 15], "nice": false, "zero": false}, "axis": null},
        "color": {"field": "s", "type": "nominal",
          "scale": {"domain": ["Controle","Hoge resolutie","Middelste (P50)","Verstoorde runs"], "range": ["#000000","#ff0000","#b22222","#008000"]},
          "legend": {"title": null}},
        "strokeDash": {"field": "s", "type": "nominal",
          "scale": {"domain": ["Controle","Hoge resolutie","Middelste (P50)","Verstoorde runs"], "range": [[6,3],[1,0],[6,3],[1,0]]},
          "legend": {"title": null}}
      }
    }
  ]
}
